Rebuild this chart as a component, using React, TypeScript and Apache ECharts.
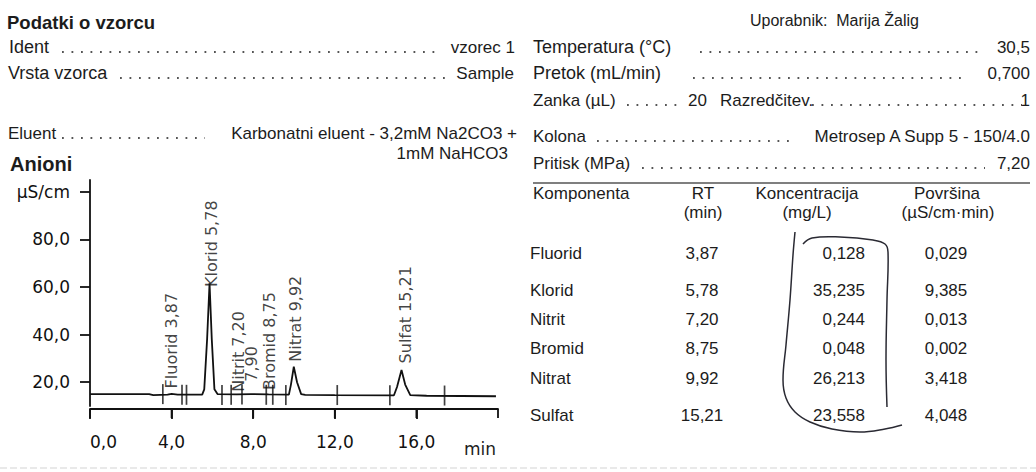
import React, { useEffect, useRef } from 'react';
import * as echarts from 'echarts';

// ---- chart data ----
const xTickMarks = [0, 4, 8, 12, 16, 20];
const yTickValues = [20, 40, 60, 80, 100];
const timeMin = [0, 2.9, 3.1, 3.8, 4.0, 4.3, 5.5, 5.6, 5.74, 5.86, 5.97, 6.1, 6.25, 7.2, 7.9, 8.75, 9.75, 9.85, 9.99, 10.15, 10.35, 10.55, 12.0, 14.9, 15.05, 15.27, 15.45, 15.7, 16.5, 19.9];
const signal = [15.0, 15.0, 14.6, 14.8, 15.1, 14.8, 14.8, 17.0, 38.0, 61.6, 38.0, 17.0, 15.0, 14.9, 15.0, 14.9, 14.8, 19.0, 26.5, 20.0, 15.0, 14.7, 14.6, 14.5, 18.0, 25.1, 19.0, 14.6, 14.3, 14.1];
const markerTimes = [3.57, 4.51, 4.73, 6.47, 6.92, 7.45, 8.64, 8.96, 9.6, 12.12, 14.7, 17.38];
const markerLevels = [15.0, 14.7, 14.7, 14.6, 14.7, 14.8, 14.7, 14.7, 14.6, 14.6, 14.5, 14.4];
const peakNames = ['Fluorid 3,87', 'Klorid 5,78', 'Nitrit 7,20', '7,90', 'Bromid 8,75', 'Nitrat 9,92', 'Sulfat 15,21'];
const peakLabelTimes = [4.0, 5.96, 7.26, 7.9, 8.81, 10.08, 15.47];
const peakLabelLevels = [17.4, 60.0, 16.0, 20.2, 16.7, 28.6, 27.9];

// ---- table data ----
const components = ['Fluorid', 'Klorid', 'Nitrit', 'Bromid', 'Nitrat', 'Sulfat'];
const rtValues = ['3,87', '5,78', '7,20', '8,75', '9,92', '15,21'];
const concValues = ['0,128', '35,235', '0,244', '0,048', '26,213', '23,558'];
const areaValues = ['0,029', '9,385', '0,013', '0,002', '3,418', '4,048'];
const rowY = [253, 290, 319, 348, 378, 415];

const FONT = '"Liberation Sans", Arial, sans-serif';
const CHART_FONT = '"DejaVu Sans", Verdana, sans-serif';
const INK = '#1c1c1c';
const X_AXIS_OFFSET = 3;

const fmt = (v: number) => v.toFixed(1).replace('.', ',');

function txt(
  x: number,
  y: number,
  text: string,
  o: { size?: number; weight?: string; align?: string; fill?: string; family?: string } = {}
) {
  const align = o.align || 'left';
  return {
    type: 'text',
    x,
    y,
    silent: true,
    style: {
      text,
      fill: o.fill || INK,
      font: `${o.weight || 'normal'} ${o.size || 17}px ${o.family || FONT}`,
      align,
      verticalAlign: 'middle',
    },
  };
}

function dots(x1: number, x2: number, y: number) {
  return {
    type: 'line',
    silent: true,
    shape: { x1, y1: y, x2, y2: y },
    style: { stroke: '#555', lineWidth: 1.8, lineDash: [1.8, 7.7] },
  };
}

export default function App() {
  const ref = useRef<HTMLDivElement>(null);
  useEffect(() => {
    if (!ref.current) return;
    const chart = echarts.init(ref.current, undefined, { renderer: 'svg' });

    const graphics: any[] = [
      txt(7, 22, 'Podatki o vzorcu', { weight: 'bold', size: 18.5 }),
      txt(9, 47, 'Ident', { size: 18 }),
      dots(62, 435, 52),
      txt(515, 47, 'vzorec 1', { align: 'right' }),
      txt(8, 73, 'Vrsta vzorca', { size: 18 }),
      dots(120, 448, 78),
      txt(514, 73, 'Sample', { align: 'right' }),
      txt(8, 133, 'Eluent'),
      dots(62, 205, 138),
      txt(517, 133, 'Karbonatni eluent - 3,2mM Na2CO3 +', { align: 'right' }),
      txt(508, 153, '1mM NaHCO3', { align: 'right' }),
      txt(10, 164, 'Anioni', { weight: 'bold', size: 20 }),

      txt(750, 20, 'Uporabnik:  Marija Žalig', { size: 16 }),
      txt(533, 47, 'Temperatura (°C)', { size: 18 }),
      dots(700, 985, 52),
      txt(1030, 47, '30,5', { align: 'right' }),
      txt(533, 73, 'Pretok (mL/min)', { size: 18 }),
      dots(693, 962, 78),
      txt(1030, 73, '0,700', { align: 'right' }),
      txt(533, 100, 'Zanka (µL)'),
      dots(627, 678, 105),
      txt(707, 100, '20', { align: 'right' }),
      txt(720, 100, 'Razredčitev.'),
      dots(812, 1022, 105),
      txt(1030, 100, '1', { align: 'right' }),
      txt(533, 136, 'Kolona'),
      dots(597, 795, 141),
      txt(1030, 136, 'Metrosep A Supp 5 - 150/4.0', { align: 'right' }),
      txt(533, 163, 'Pritisk (MPa)'),
      dots(642, 985, 168),
      txt(1030, 163, '7,20', { align: 'right' }),
      {
        type: 'line',
        silent: true,
        shape: { x1: 533, y1: 183, x2: 1030, y2: 183 },
        style: { stroke: '#555', lineWidth: 1.5 },
      },
      txt(533, 193, 'Komponenta'),
      txt(703, 193, 'RT', { align: 'center' }),
      txt(703, 212, '(min)', { align: 'center' }),
      txt(807, 193, 'Koncentracija', { align: 'center' }),
      txt(807, 212, '(mg/L)', { align: 'center' }),
      txt(947, 193, 'Površina', { align: 'center' }),
      txt(948, 212, '(µS/cm·min)', { align: 'center' }),
      txt(480, 449, 'min', { align: 'center', family: CHART_FONT }),
      {
        type: 'line',
        silent: true,
        shape: { x1: 0, y1: 468, x2: 1036, y2: 468 },
        style: { stroke: '#e2e2e2', lineWidth: 1.5, lineDash: [7, 3] },
      },
      {
        type: 'polyline',
        silent: true,
        shape: {
          points: [[795, 232], [793, 255], [790, 300], [786, 345], [783, 380], [786, 398], [795, 412], [810, 422], [832, 429], [860, 432], [885, 429], [902, 425]],
          smooth: 0.4,
        },
        style: { stroke: '#2a2a33', lineWidth: 1.5, fill: 'none' },
      },
      {
        type: 'polyline',
        silent: true,
        shape: {
          points: [[803, 244], [812, 238], [840, 237], [873, 240], [885, 244], [888, 252], [887, 300], [886, 360], [887, 407]],
          smooth: 0.4,
        },
        style: { stroke: '#2a2a33', lineWidth: 1.5, fill: 'none' },
      },
    ];

    components.forEach((c, i) => {
      graphics.push(txt(530, rowY[i], c));
      graphics.push(txt(702, rowY[i], rtValues[i], { align: 'center' }));
      graphics.push(txt(865, rowY[i], concValues[i], { align: 'right' }));
      graphics.push(txt(946, rowY[i], areaValues[i], { align: 'center' }));
    });

    chart.setOption({
      animation: false,
      grid: { left: 90, right: 538, top: 180, bottom: 66 },
      xAxis: {
        type: 'value',
        min: 0,
        max: 20,
        interval: 4,
        offset: X_AXIS_OFFSET,
        axisLine: { show: true, onZero: false, lineStyle: { color: '#111', width: 1.8 } },
        axisTick: { show: true, length: 10, lineStyle: { color: '#111', width: 1.8 } },
        axisLabel: {
          showMaxLabel: false,
          formatter: (v: number) => fmt(v),
          margin: 24,
          color: '#111',
          fontSize: 17,
          fontFamily: CHART_FONT,
          alignMinLabel: 'left',
        },
        splitLine: { show: false },
      },
      yAxis: {
        type: 'value',
        min: 10,
        max: 105,
        axisLine: { show: true, lineStyle: { color: '#111', width: 1.8 } },
        axisTick: { show: true, customValues: yTickValues, length: 10, lineStyle: { color: '#111', width: 1.8 } },
        axisLabel: {
          customValues: yTickValues,
          formatter: (v: number) => (v === 100 ? 'µS/cm' : fmt(v)),
          margin: 20,
          color: '#111',
          fontSize: 17,
          fontFamily: CHART_FONT,
        },
        splitLine: { show: false },
      },
      series: [
        {
          type: 'line',
          data: timeMin.map((t, i) => [t, signal[i]]),
          showSymbol: false,
          symbol: 'none',
          lineStyle: { color: '#111', width: 1.8 },
          z: 3,
        },
        {
          type: 'scatter',
          data: markerTimes.map((t, i) => [t, markerLevels[i]]),
          symbol: 'rect',
          symbolSize: [1.7, 20],
          itemStyle: { color: '#111' },
          z: 4,
        },
        {
          type: 'scatter',
          data: peakNames.map((n, i) => ({ name: n, value: [peakLabelTimes[i], peakLabelLevels[i]] })),
          symbolSize: 1,
          itemStyle: { color: 'rgba(0,0,0,0)' },
          label: {
            show: true,
            formatter: (p: any) => p.name,
            position: 'inside',
            rotate: 90,
            align: 'left',
            verticalAlign: 'middle',
            color: '#111',
            fontSize: 16,
            fontFamily: CHART_FONT,
          },
          z: 5,
        },
      ],
      graphic: graphics,
    });

    // time axis line and downward ticks, placed through the chart's own scales
    const axisY = (chart.convertToPixel({ yAxisIndex: 0 }, 10) as number) + X_AXIS_OFFSET;
    const xStart = chart.convertToPixel({ xAxisIndex: 0 }, xTickMarks[0]) as number;
    const xEnd = chart.convertToPixel({ xAxisIndex: 0 }, xTickMarks[xTickMarks.length - 1]) as number;
    const axisGraphics: any[] = [
      {
        type: 'line',
        silent: true,
        z: 100,
        shape: { x1: xStart, y1: axisY, x2: xEnd, y2: axisY },
        style: { stroke: '#111', lineWidth: 1.8 },
      },
    ];
    xTickMarks.forEach((v) => {
      const px = chart.convertToPixel({ xAxisIndex: 0 }, v) as number;
      axisGraphics.push({
        type: 'line',
        silent: true,
        z: 100,
        shape: { x1: px, y1: axisY, x2: px, y2: axisY + 9 },
        style: { stroke: '#111', lineWidth: 1.8 },
      });
    });
    chart.setOption({ graphic: [...graphics, ...axisGraphics] });

    return () => chart.dispose();
  }, []);

  return (
    <div
      ref={ref}
      style={{ position: 'fixed', left: 0, top: 0, width: 1036, height: 472, background: '#fff' }}
    />
  );
}
